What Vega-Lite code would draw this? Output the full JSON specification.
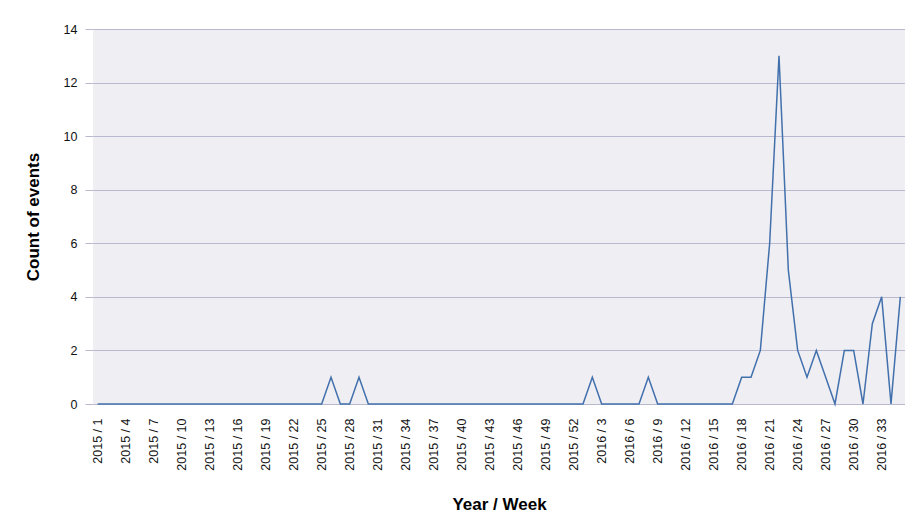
{
  "$schema": "https://vega.github.io/schema/vega-lite/v6.json",
  "autosize": "none",
  "width": 812,
  "height": 375,
  "padding": {"left": 93, "top": 29, "right": 0, "bottom": 114},
  "background": "#ffffff",
  "config": {
    "font": "Liberation Sans",
    "view": {"fill": "#eeeef3", "stroke": null}
  },
  "data": {
    "values": [
      {"week": "2015 / 1", "count": 0}, {"week": "2015 / 2", "count": 0}, {"week": "2015 / 3", "count": 0},
      {"week": "2015 / 4", "count": 0}, {"week": "2015 / 5", "count": 0}, {"week": "2015 / 6", "count": 0},
      {"week": "2015 / 7", "count": 0}, {"week": "2015 / 8", "count": 0}, {"week": "2015 / 9", "count": 0},
      {"week": "2015 / 10", "count": 0}, {"week": "2015 / 11", "count": 0}, {"week": "2015 / 12", "count": 0},
      {"week": "2015 / 13", "count": 0}, {"week": "2015 / 14", "count": 0}, {"week": "2015 / 15", "count": 0},
      {"week": "2015 / 16", "count": 0}, {"week": "2015 / 17", "count": 0}, {"week": "2015 / 18", "count": 0},
      {"week": "2015 / 19", "count": 0}, {"week": "2015 / 20", "count": 0}, {"week": "2015 / 21", "count": 0},
      {"week": "2015 / 22", "count": 0}, {"week": "2015 / 23", "count": 0}, {"week": "2015 / 24", "count": 0},
      {"week": "2015 / 25", "count": 0}, {"week": "2015 / 26", "count": 1}, {"week": "2015 / 27", "count": 0},
      {"week": "2015 / 28", "count": 0}, {"week": "2015 / 29", "count": 1}, {"week": "2015 / 30", "count": 0},
      {"week": "2015 / 31", "count": 0}, {"week": "2015 / 32", "count": 0}, {"week": "2015 / 33", "count": 0},
      {"week": "2015 / 34", "count": 0}, {"week": "2015 / 35", "count": 0}, {"week": "2015 / 36", "count": 0},
      {"week": "2015 / 37", "count": 0}, {"week": "2015 / 38", "count": 0}, {"week": "2015 / 39", "count": 0},
      {"week": "2015 / 40", "count": 0}, {"week": "2015 / 41", "count": 0}, {"week": "2015 / 42", "count": 0},
      {"week": "2015 / 43", "count": 0}, {"week": "2015 / 44", "count": 0}, {"week": "2015 / 45", "count": 0},
      {"week": "2015 / 46", "count": 0}, {"week": "2015 / 47", "count": 0}, {"week": "2015 / 48", "count": 0},
      {"week": "2015 / 49", "count": 0}, {"week": "2015 / 50", "count": 0}, {"week": "2015 / 51", "count": 0},
      {"week": "2015 / 52", "count": 0},
      {"week": "2016 / 1", "count": 0}, {"week": "2016 / 2", "count": 1}, {"week": "2016 / 3", "count": 0},
      {"week": "2016 / 4", "count": 0}, {"week": "2016 / 5", "count": 0}, {"week": "2016 / 6", "count": 0},
      {"week": "2016 / 7", "count": 0}, {"week": "2016 / 8", "count": 1}, {"week": "2016 / 9", "count": 0},
      {"week": "2016 / 10", "count": 0}, {"week": "2016 / 11", "count": 0}, {"week": "2016 / 12", "count": 0},
      {"week": "2016 / 13", "count": 0}, {"week": "2016 / 14", "count": 0}, {"week": "2016 / 15", "count": 0},
      {"week": "2016 / 16", "count": 0}, {"week": "2016 / 17", "count": 0}, {"week": "2016 / 18", "count": 1},
      {"week": "2016 / 19", "count": 1}, {"week": "2016 / 20", "count": 2}, {"week": "2016 / 21", "count": 6},
      {"week": "2016 / 22", "count": 13}, {"week": "2016 / 23", "count": 5}, {"week": "2016 / 24", "count": 2},
      {"week": "2016 / 25", "count": 1}, {"week": "2016 / 26", "count": 2}, {"week": "2016 / 27", "count": 1},
      {"week": "2016 / 28", "count": 0}, {"week": "2016 / 29", "count": 2}, {"week": "2016 / 30", "count": 2},
      {"week": "2016 / 31", "count": 0}, {"week": "2016 / 32", "count": 3}, {"week": "2016 / 33", "count": 4},
      {"week": "2016 / 34", "count": 0}, {"week": "2016 / 35", "count": 4}
    ]
  },
  "mark": {"type": "line", "color": "#4270ac", "strokeWidth": 1.5, "interpolate": "linear"},
  "encoding": {
    "x": {
      "field": "week",
      "type": "ordinal",
      "sort": null,
      "scale": {"type": "point", "padding": 0.5},
      "axis": {
        "title": "Year / Week",
        "titleFont": "Liberation Sans",
        "titleFontSize": 17,
        "titleFontWeight": "bold",
        "titleColor": "#000000",
        "titlePadding": 26,
        "labelAngle": -90,
        "labelAlign": "right",
        "labelBaseline": "middle",
        "labelFontSize": 12.5,
        "labelColor": "#111111",
        "labelPadding": 14,
        "ticks": false,
        "domain": false,
        "grid": false,
        "labelOverlap": false,
        "values": ["2015 / 1", "2015 / 4", "2015 / 7", "2015 / 10", "2015 / 13", "2015 / 16", "2015 / 19", "2015 / 22", "2015 / 25", "2015 / 28", "2015 / 31", "2015 / 34", "2015 / 37", "2015 / 40", "2015 / 43", "2015 / 46", "2015 / 49", "2015 / 52", "2016 / 3", "2016 / 6", "2016 / 9", "2016 / 12", "2016 / 15", "2016 / 18", "2016 / 21", "2016 / 24", "2016 / 27", "2016 / 30", "2016 / 33"]
      }
    },
    "y": {
      "field": "count",
      "type": "quantitative",
      "scale": {"domain": [0, 14], "nice": false},
      "axis": {
        "title": "Count of events",
        "titleFont": "Liberation Sans",
        "titleFontSize": 17,
        "titleFontWeight": "bold",
        "titleColor": "#000000",
        "titlePadding": 21,
        "values": [0, 2, 4, 6, 8, 10, 12, 14],
        "labelFontSize": 12.5,
        "labelColor": "#111111",
        "labelPadding": 8,
        "tickSize": 8,
        "tickColor": "#b8b8cf",
        "gridColor": "#b8b8cf",
        "gridOpacity": 1,
        "domain": false
      }
    }
  }
}
